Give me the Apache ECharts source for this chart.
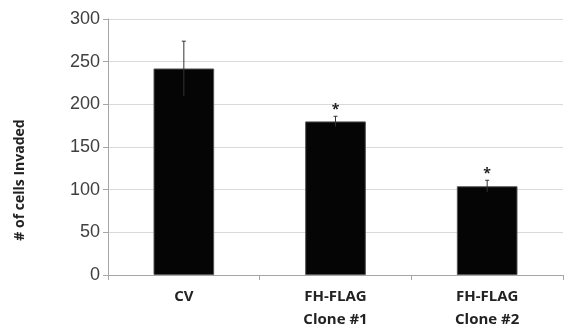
<!DOCTYPE html>
<html><head><meta charset="utf-8">
<script src="https://cdn.jsdelivr.net/npm/echarts@6/dist/echarts.min.js"></script>
<style>html,body{margin:0;padding:0;background:#fff}#c{width:564px;height:331px}</style>
</head><body><div id="c"></div>
<script>
const categories = ['CV', 'FH-FLAG\nClone #1', 'FH-FLAG\nClone #2'];
const means = [242, 180, 104];
const errors = [32, 6, 7];
const marks = ['', '*', '*'];
const yTicks = [0, 50, 100, 150, 200, 250, 300];

const chart = echarts.init(document.getElementById('c'), null, {renderer: 'canvas'});
chart.setOption({
  animation: false,
  grid: {left: 108, right: 1, top: 19, bottom: 52},
  xAxis: {
    type: 'category', data: categories,
    axisLine: {lineStyle: {color: '#a6a6a6'}},
    axisTick: {show: true, length: 5, lineStyle: {color: '#a6a6a6'}},
    axisLabel: {fontFamily: 'Open Sans', fontWeight: 'bold', fontSize: 15, color: '#222', lineHeight: 23, margin: 10}
  },
  yAxis: {
    type: 'value', min: 0, max: 300, interval: 50,
    axisLine: {show: true, lineStyle: {color: '#a6a6a6'}},
    axisTick: {show: true, length: 5, lineStyle: {color: '#a6a6a6'}},
    splitLine: {lineStyle: {color: '#d9d9d9'}},
    axisLabel: {fontFamily: 'Liberation Sans', fontSize: 18, color: '#404040', margin: 8,
      formatter: v => yTicks.includes(v) ? String(v) : ''}
  },
  graphic: [{
    type: 'text', x: 20, y: 180, rotation: Math.PI / 2,
    style: {text: '# of cells Invaded', font: 'bold 14px "Open Sans"', fill: '#222',
      textAlign: 'center', textVerticalAlign: 'middle'}
  }],
  series: [
    {
      type: 'bar', data: means, barWidth: '40%',
      itemStyle: {color: '#050505', borderColor: '#555', borderWidth: 1}
    },
    {
      type: 'custom',
      data: means.map((m, i) => [i, m, errors[i]]),
      renderItem: function (params, api) {
        const i = api.value(0), m = api.value(1), e = api.value(2);
        const top = api.coord([i, m + e]);
        const bot = api.coord([i, m - e]);
        const x = top[0];
        const children = [
          {type: 'line', shape: {x1: x, y1: top[1], x2: x, y2: bot[1]}, style: {stroke: '#333', lineWidth: 1}},
          {type: 'line', shape: {x1: x - 2, y1: top[1], x2: x + 2, y2: top[1]}, style: {stroke: '#333', lineWidth: 1}}
        ];
        if (marks[i]) {
          children.push({type: 'text', x: x, y: top[1] + 1,
            style: {text: marks[i], font: 'bold 14px "Open Sans"', fill: '#222', textAlign: 'center', textVerticalAlign: 'bottom'}});
        }
        return {type: 'group', children: children};
      },
      z: 5
    }
  ]
});
</script></body></html>
